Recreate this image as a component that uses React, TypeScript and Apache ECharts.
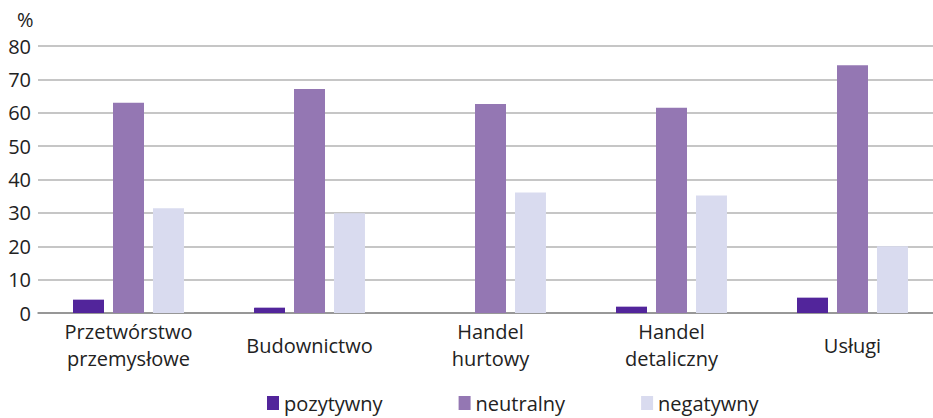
import React, { useEffect, useRef } from "react";
import * as echarts from "echarts";

const categories = ["Przetwórstwo\nprzemysłowe", "Budownictwo", "Handel\nhurtowy", "Handel\ndetaliczny", "Usługi"];
const pozytywny = [4.0, 1.6, 0, 1.9, 4.6];
const neutralny = [63.0, 67.1, 62.6, 61.5, 74.2];
const negatywny = [31.4, 29.9, 36.1, 35.2, 20.0];
const seriesNames = ["pozytywny", "neutralny", "negatywny"];
const colors = ["#52259b", "#9477b3", "#d9dbef"];

const FONT = "Open Sans";
const FS = 20;

export default function App() {
  const ref = useRef<HTMLDivElement>(null);
  useEffect(() => {
    if (!ref.current) return;
    const chart = echarts.init(ref.current, undefined, { renderer: "svg" });
    const data = [pozytywny, neutralny, negatywny];
    chart.setOption({
      animation: false,
      color: colors,
      textStyle: { fontFamily: FONT },
      title: {
        text: "%",
        left: 12,
        top: 4,
        textStyle: { fontSize: FS, fontWeight: "normal", color: "#222", fontFamily: FONT },
      },
      grid: { left: 38, right: 0, top: 46, bottom: 105, containLabel: false },
      legend: {
        bottom: 0,
        left: 262,
        itemWidth: 12,
        itemHeight: 14,
        itemGap: 76,
        icon: "rect",
        textStyle: { fontSize: FS, color: "#222", fontFamily: FONT },
        data: seriesNames,
      },
      xAxis: {
        type: "category",
        data: categories,
        axisTick: { show: false },
        axisLine: { lineStyle: { color: "#888", width: 1.5 } },
        axisLabel: {
          fontSize: FS,
          color: "#222",
          fontFamily: FONT,
          verticalAlign: "middle",
          margin: 32,
          lineHeight: 27,
          interval: 0,
        },
      },
      yAxis: {
        type: "value",
        min: 0,
        max: 80,
        interval: 10,
        axisLine: { show: false },
        axisTick: { show: false },
        splitLine: { lineStyle: { color: "#b3b3b3", width: 1.5 } },
        axisLabel: { fontSize: FS, color: "#222", fontFamily: FONT, margin: 7 },
      },
      series: seriesNames.map((name, i) => ({
        name,
        type: "bar",
        data: data[i],
        barGap: "29%",
        barCategoryGap: "38.7%",
        itemStyle: { color: colors[i] },
      })),
    });
    return () => chart.dispose();
  }, []);
  return (
    <div style={{ position: "absolute", left: 0, top: 0, width: 933, height: 418, overflow: "hidden", background: "#fff" }}>
      <div ref={ref} style={{ width: 943, height: 418 }} />
    </div>
  );
}
